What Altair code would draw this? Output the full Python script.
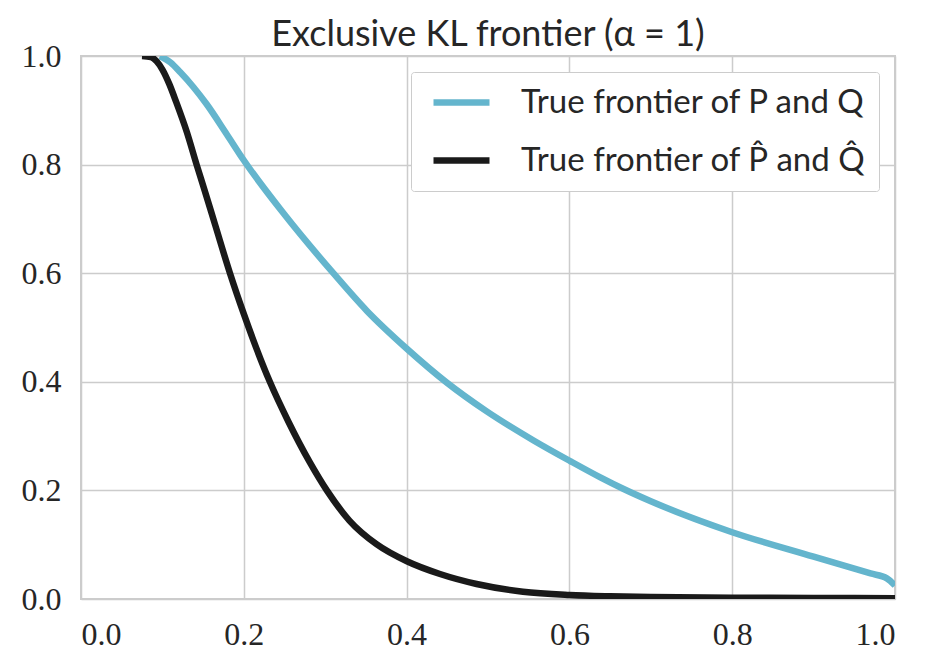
import altair as alt
import pandas as pd

# True frontier of P and Q (blue)
blue_x = [0.097, 0.11, 0.122, 0.138, 0.154, 0.179, 0.2, 0.25, 0.31, 0.351, 0.401, 0.449,
          0.498, 0.556, 0.601, 0.638, 0.666, 0.7, 0.8, 0.9, 0.97, 0.99, 1.0]
blue_y = [1.0, 0.988, 0.97, 0.943, 0.912, 0.856, 0.808, 0.708, 0.6, 0.531, 0.46, 0.399,
          0.346, 0.292, 0.254, 0.224, 0.203, 0.18, 0.123, 0.078, 0.047, 0.038, 0.025]

# True frontier of P-hat and Q-hat (black)
black_x = [0.075, 0.086, 0.093, 0.1, 0.108, 0.117, 0.13, 0.142, 0.152, 0.165, 0.183, 0.2,
           0.232, 0.255, 0.281, 0.302, 0.33, 0.363, 0.401, 0.441, 0.486, 0.543, 0.6,
           0.65, 0.7, 0.8, 0.9, 1.0]
black_y = [1.0, 0.998, 0.99, 0.975, 0.95, 0.915, 0.86, 0.8, 0.752, 0.688, 0.6, 0.525,
           0.4, 0.326, 0.252, 0.2, 0.144, 0.101, 0.069, 0.046, 0.0276, 0.0135, 0.0075,
           0.005, 0.0035, 0.0025, 0.002, 0.0015]

series_names = ["True frontier of P and Q", "True frontier of P\u0302 and Q\u0302"]
series_colors = ["#64b5cd", "#1a1a1a"]
ticks = [0.0, 0.2, 0.4, 0.6, 0.8, 1.0]

rows = []
for i, (x, y) in enumerate(zip(blue_x, blue_y)):
    rows.append({"x": x, "y": y, "series": series_names[0], "order": i})
for i, (x, y) in enumerate(zip(black_x, black_y)):
    rows.append({"x": x, "y": y, "series": series_names[1], "order": i})
df = pd.DataFrame(rows)

serif = "Liberation Serif"
sans = "Lato"

chart = alt.Chart(df).mark_line(
    strokeWidth=6.5, interpolate="monotone", clip=True
).encode(
    x=alt.X("x:Q", scale=alt.Scale(domain=[0, 1], nice=False, zero=False),
            axis=alt.Axis(values=ticks, format=".1f", title=None, labelPadding=20,
                          labelFontSize=32, labelFont=serif)),
    y=alt.Y("y:Q", scale=alt.Scale(domain=[0, 1], nice=False),
            axis=alt.Axis(values=ticks, format=".1f", title=None, labelPadding=20,
                          labelFontSize=32, labelFont=serif, minExtent=60, maxExtent=60)),
    color=alt.Color("series:N",
                    scale=alt.Scale(domain=series_names, range=series_colors),
                    sort=series_names,
                    legend=alt.Legend(title=None, orient="top-right", offset=16)),
    order="order:Q",
).properties(
    width=814,
    height=543,
    padding={"left": 13, "top": 9, "right": 20, "bottom": 5},
    title=alt.TitleParams("Exclusive KL frontier (\u03b1 = 1)", font=sans,
                          fontSize=36, fontWeight="normal", color="#262626", offset=-14),
).configure_view(
    stroke="#cccccc", strokeWidth=2
).configure_axis(
    grid=True, gridColor="#cccccc", gridWidth=1.5, domain=False, ticks=False,
    labelColor="#262626"
).configure_legend(
    symbolType="M-2,0H2", symbolSize=784, symbolStrokeWidth=6.5, symbolOffset=20,
    labelFont=sans, labelFontSize=33, labelColor="#262626", labelOffset=42,
    padding=13, rowPadding=23, strokeColor="#cccccc", fillColor="white",
    cornerRadius=3, labelLimit=500
)

chart.save("out.html", embed_options={"renderer": "svg", "actions": False})
